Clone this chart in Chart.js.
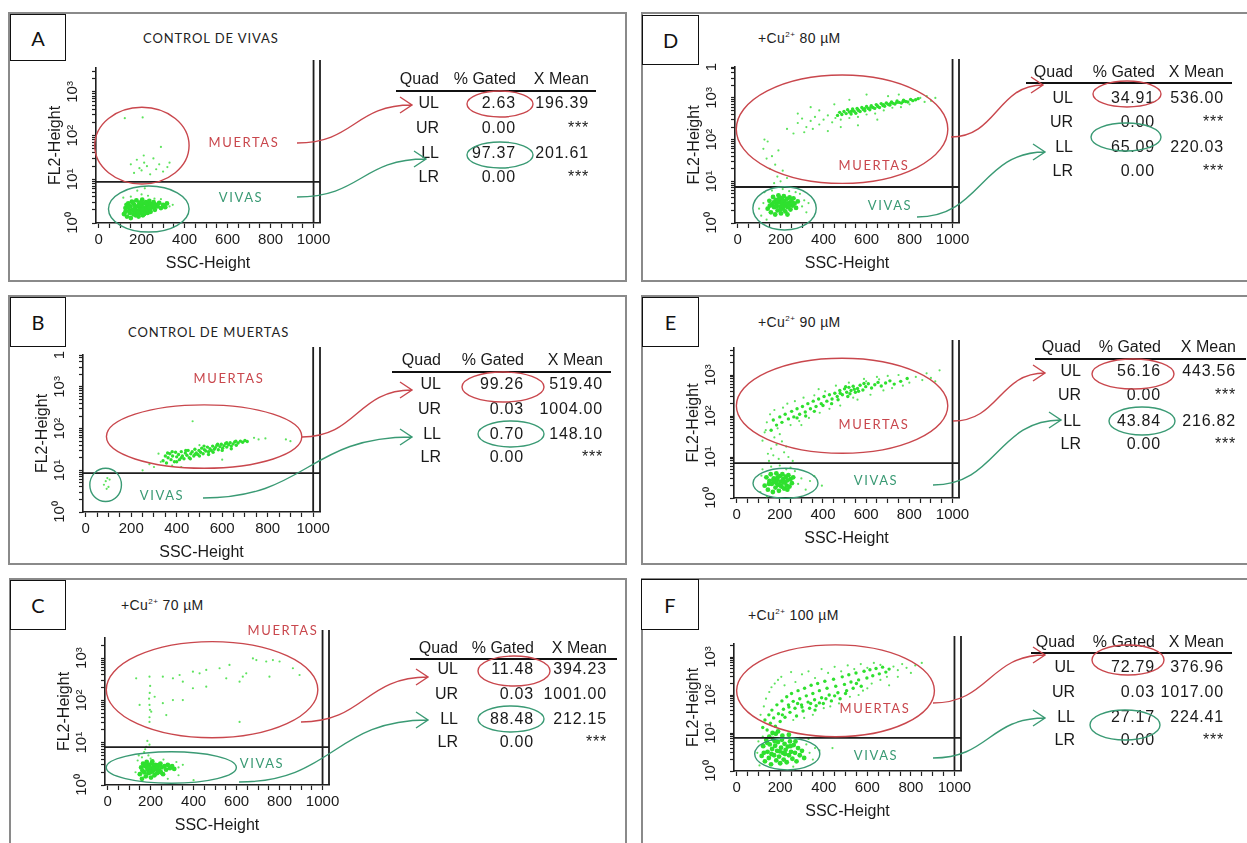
<!DOCTYPE html>
<html>
<head>
<meta charset="utf-8">
<script src="https://cdn.jsdelivr.net/npm/chart.js@4.4.1/dist/chart.umd.min.js"></script>
<style>
body { margin:0; background:#fff; width:1247px; height:843px; overflow:hidden; position:relative; font-family:"Liberation Sans", Arial, sans-serif; }
.panel { position:absolute; border:2px solid #8a8a8a; box-sizing:border-box; }
.letter { position:absolute; border:1.5px solid #111; background:#fff; box-sizing:border-box; font:20px Lato, sans-serif; color:#111; display:flex; align-items:center; justify-content:center; }
.title { position:absolute; white-space:nowrap; color:#222; transform:translateY(-50%); }
.caps { font:13px Lato, sans-serif; letter-spacing:0.9px; }
.cu { font:14px "Liberation Sans", Arial, sans-serif; letter-spacing:0.4px; }
.cu sup { font-size:8px; vertical-align:6px; }
.t { position:absolute; width:200px; text-align:right; white-space:nowrap; font:16px "Liberation Sans", Arial, sans-serif; color:#1a1a1a; height:18px; line-height:18px; }
.v { letter-spacing:0.8px; }
.gl { position:absolute; white-space:nowrap; font:13px Lato, sans-serif; letter-spacing:1.6px; transform:translate(-50%,-50%); }
canvas { position:absolute; }
</style>
</head>
<body>
<script>
/* ---- table values ---- */
var quadNames = ['UL', 'UR', 'LL', 'LR'];
var gatedA = ['2.63', '0.00', '97.37', '0.00'];   var meanA = ['196.39', '***', '201.61', '***'];
var gatedB = ['99.26', '0.03', '0.70', '0.00'];   var meanB = ['519.40', '1004.00', '148.10', '***'];
var gatedC = ['11.48', '0.03', '88.48', '0.00'];  var meanC = ['394.23', '1001.00', '212.15', '***'];
var gatedD = ['34.91', '0.00', '65.09', '0.00'];  var meanD = ['536.00', '***', '220.03', '***'];
var gatedE = ['56.16', '0.00', '43.84', '0.00'];  var meanE = ['443.56', '***', '216.82', '***'];
var gatedF = ['72.79', '0.03', '27.17', '0.00'];  var meanF = ['376.96', '1017.00', '224.41', '***'];

var titles = ['CONTROL DE VIVAS', 'CONTROL DE MUERTAS', '+Cu<sup>2+</sup> 70 µM', '+Cu<sup>2+</sup> 80 µM', '+Cu<sup>2+</sup> 90 µM', '+Cu<sup>2+</sup> 100 µM'];

/* axis ticks */
var xTickValues = [0, 50, 100, 150, 200, 250, 300, 350, 400, 450, 500, 550, 600, 650, 700, 750, 800, 850, 900, 950, 1000];
var xTickLabels = ['0', '200', '400', '600', '800', '1000'];
var yMajorTicks = [1, 10, 100, 1000];
var yMajorLabels = ['10⁰', '10¹', '10²', '10³'];

/* quadrant marker level (FL2) per panel A..F */
var quadLevels = [8.7, 8.6, 7.9, 7.3, 7.1, 7.4];

/* gates [ssc from, ssc to, fl2 from, fl2 to] */
var gateRedA = [-18, 421, 7.8, 447],   gateGreenA = [46, 421, 0.62, 7.0];
var gateRedB = [91, 950, 11.2, 370],   gateGreenB = [18, 157, 1.78, 11.2];
var gateRedC = [-6, 978, 13.1, 2450],  gateGreenC = [-6, 599, 1.1, 6.1];
var gateRedD = [-6, 978, 8.9, 3550],   gateGreenD = [71, 366, 0.68, 7.4];
var gateRedE = [-1, 978, 12.3, 2570],  gateGreenE = [76, 377, 0.98, 5.3];
var gateRedF = [0, 908, 8.0, 2080],    gateGreenF = [83, 382, 1.07, 7.4];

/* events [SSC-Height, FL2-Height]: core = dense live cloud, band = dense dead cloud, sparse = scattered */
var ptsACore = [[118,1.6],[125,2.2],[132,1.4],[138,2.8],[142,1.9],[148,2.4],[150,1.3],[155,3.1],[158,2.0],[162,1.6],[166,2.6],[170,2.2],[172,1.5],[176,3.3],[180,1.9],[183,2.4],[186,1.4],[190,2.9],[193,2.1],[196,1.7],[200,2.5],[203,3.4],[206,1.5],[210,2.2],[213,2.8],[216,1.9],[220,3.0],[224,2.4],[228,1.7],[232,2.6],[236,3.2],[240,2.1],[244,2.7],[250,2.3],[256,3.0],[262,2.0],[268,2.6],[275,2.4],[282,2.9],[290,2.2],[130,2.6],[145,1.7],[160,2.9],[175,1.8],[188,2.6],[198,3.0],[212,1.6],[226,2.0],[242,1.8],[254,2.5],[300,2.6],[310,2.3],[318,2.8],[125,1.8],[140,2.3],[165,2.0],[185,1.7],[205,2.0],[235,2.3],[260,2.4]];
var ptsABand = [];
var ptsASparse = [[115,3.8],[200,4.5],[230,4.2],[260,3.6],[330,2.4],[345,2.6],[180,5.5],[215,6.2],[150,4.0],[290,3.5],[122,250],[205,260],[150,22],[165,14],[178,28],[190,18],[200,16],[212,24],[225,20],[240,13],[255,30],[268,17],[282,22],[300,15],[320,19],[290,55],[330,24],[210,35]];

var ptsBCore = [];
var ptsBBand = [[340,17],[350,22],[355,15],[362,20],[370,25],[375,18],[382,22],[390,16],[395,27],[400,21],[408,24],[412,18],[420,28],[425,22],[432,19],[438,26],[445,23],[450,30],[455,20],[462,25],[468,28],[475,22],[480,32],[486,26],[492,24],[498,30],[505,27],[510,34],[516,25],[522,31],[528,29],[535,36],[540,28],[546,33],[552,30],[558,38],[565,32],[570,35],[577,40],[583,31],[590,37],[596,42],[602,34],[608,39],[615,44],[620,36],[628,41],[635,46],[640,38],[648,43],[655,48],[662,40],[670,45],[680,50],[690,47],[700,52],[710,49],[360,26],[380,28],[400,16],[420,20],[440,30],[460,19],[480,24],[500,22],[520,38],[540,24],[560,27],[580,42],[600,30],[620,46],[640,33],[660,50]];
var ptsBSparse = [[280,14],[300,12],[330,16],[380,13],[420,12],[470,150],[600,18],[740,60],[760,55],[790,58],[880,55],[900,50],[250,10],[500,40],[320,25],[80,4.5],[88,5.5],[95,6.5],[100,4.0],[92,3.6],[105,6.0]];

var ptsCCore = [[150,1.8],[156,2.6],[160,1.4],[165,3.2],[170,2.0],[174,2.8],[178,1.6],[182,3.5],[186,2.3],[190,1.9],[194,3.0],[198,2.5],[202,1.5],[206,3.3],[210,2.1],[214,2.8],[218,1.7],[222,3.0],[226,2.4],[230,1.9],[235,2.9],[240,2.2],[246,3.2],[252,2.6],[258,1.8],[265,2.8],[272,2.3],[280,3.0],[290,2.5],[300,2.8],[162,2.2],[184,2.6],[200,2.0],[215,2.4],[232,2.6],[248,2.0],[176,3.0],[208,3.6],[240,3.0],[310,2.4]];
var ptsCBand = [];
var ptsCSparse = [[140,3.8],[145,5.0],[170,6.0],[180,8.0],[185,11],[175,7.0],[190,5.0],[195,9],[160,4.5],[320,3.5],[330,2.6],[350,3.0],[200,4.2],[260,4.0],[280,1.4],[330,1.7],[400,1.3],[130,2.0],[133,333],[195,363],[257,363],[304,333],[350,277],[397,478],[428,436],[459,525],[521,575],[567,690],[614,277],[645,436],[692,900],[738,830],[753,363],[800,830],[862,575],[893,398],[149,78],[195,78],[219,122],[257,86],[304,102],[350,102],[397,194],[459,211],[195,31],[203,54],[273,45],[614,31],[335,398],[552,333],[629,363],[676,980],[769,900],[195,40],[197,60],[193,110],[196,150],[198,220]];

var ptsDCore = [[140,2.2],[148,3.4],[155,1.8],[160,2.8],[165,4.2],[170,2.4],[175,1.6],[178,3.6],[182,2.9],[186,2.0],[190,4.6],[194,3.2],[198,2.5],[202,1.7],[205,3.9],[208,2.9],[212,2.2],[215,4.4],[218,3.3],[222,1.9],[226,2.7],[230,3.8],[234,2.4],[238,3.0],[242,4.1],[246,2.1],[250,3.4],[255,2.6],[260,3.9],[265,2.9],[272,2.3],[280,3.3],[150,2.6],[168,3.1],[188,3.6],[200,2.1],[210,3.5],[225,2.9],[240,2.6],[258,3.0],[195,4.0],[180,2.5],[232,1.6],[215,2.5]];
var ptsDBand = [[465,380],[475,450],[485,400],[495,470],[505,420],[512,520],[520,460],[528,410],[535,540],[542,480],[550,430],[556,560],[563,500],[570,470],[578,590],[585,530],[592,490],[600,620],[607,560],[615,520],[622,650],[630,590],[638,560],[645,690],[652,620],[660,590],[668,730],[676,660],[684,630],[692,760],[700,700],[708,670],[716,800],[724,740],[732,710],[742,840],[752,780],[762,750],[772,880],[782,820],[792,800],[805,920],[815,860],[828,900],[840,960],[530,480],[560,520],[590,550],[620,600],[650,650],[680,690],[710,730],[740,780],[770,820]];
var ptsDSparse = [[110,1.5],[120,3.0],[125,5.5],[300,2.5],[310,3.5],[290,5.0],[320,1.8],[270,5.5],[135,1.2],[160,6.0],[240,5.8],[330,3.0],[100,2.2],[210,6.5],[170,9],[200,10],[230,12],[185,13],[150,20],[135,35],[120,60],[140,90],[160,40],[175,25],[125,100],[190,55],[210,18],
  [280,250],[300,320],[320,200],[340,280],[360,350],[380,230],[400,300],[420,380],[440,260],[455,330],[350,180],[310,150],[260,140],[420,160],[480,300],[520,330],[560,350],[600,400],[640,420],[680,500],[720,580],[760,600],[800,700],[850,1000],[870,800],[880,1100],[900,850],[920,1000],[600,1200],[520,900],[450,700],[380,500],[700,1100],[340,600],[480,200],[560,220],[650,300],[750,1200],[280,420],[230,180]];

var ptsECore = [[130,2.0],[138,3.2],[145,1.6],[152,2.6],[158,3.8],[163,2.2],[168,1.4],[172,3.0],[176,2.5],[180,1.8],[184,4.0],[188,2.8],[192,2.1],[196,1.5],[200,3.4],[204,2.5],[208,1.9],[212,3.8],[216,2.9],[220,1.7],[224,2.4],[228,3.3],[232,2.0],[236,2.7],[240,3.6],[245,1.9],[250,2.9],[256,2.3],[262,3.2],[150,2.2],[170,2.7],[190,3.2],[205,2.0],[218,2.4],[235,1.6],[185,2.3]];
var ptsEBand = [[160,45],[170,80],[185,60],[200,95],[210,70],[225,110],[240,85],[255,130],[265,95],[280,150],[292,110],[305,170],[318,125],[330,200],[342,150],[355,230],[368,170],[380,260],[392,200],[405,300],[418,230],[430,330],[442,260],[455,360],[466,300],[478,420],[490,330],[500,460],[510,380],[520,500],[530,420],[540,530],[550,380],[560,470],[572,560],[585,430],[598,520],[610,610],[625,480],[640,580],[655,660],[670,540],[690,640],[710,720],[730,600],[760,700],[790,820],[480,360],[505,520],[525,350],[545,450],[565,400],[590,620],[515,300],[470,250],[440,200],[400,180],[360,130],[320,100],[280,90]];
var ptsESparse = [[110,1.4],[115,3.5],[120,5.0],[270,4.5],[285,2.2],[300,3.0],[320,1.6],[340,2.6],[360,3.4],[250,5.5],[160,5.8],[200,6.2],[230,5.0],[140,1.1],[395,2.0],[150,8],[170,11],[195,9],[220,13],[240,10],[160,16],[185,20],[210,24],[175,30],[200,36],[230,18],[145,12],[260,8],[120,25],[135,45],
  [130,40],[140,70],[155,110],[175,140],[190,50],[215,160],[235,200],[250,60],[270,230],[290,75],[310,280],[335,90],[360,320],[385,120],[410,400],[430,150],[460,550],[480,180],[520,650],[560,250],[590,800],[620,330],[650,900],[680,420],[700,950],[720,480],[750,1000],[770,550],[800,650],[830,900],[860,750],[880,1100],[900,850],[920,700],[940,1300],[600,700],[540,280],[380,450],[300,60],[660,780]];

var ptsFCore = [[115,2.5],[122,4.5],[130,1.8],[136,6.5],[142,3.2],[148,2.2],[152,5.0],[158,1.5],[163,3.8],[168,7.0],[172,2.6],[177,4.6],[182,1.9],[186,3.4],[190,5.8],[195,2.4],[200,1.6],[204,4.1],[208,6.6],[212,3.0],[216,2.0],[220,5.2],[225,3.6],[230,1.7],[235,4.4],[240,2.6],[245,6.0],[250,3.2],[256,2.1],[262,4.8],[268,3.0],[275,1.8],[282,4.0],[290,2.6],[300,3.4],[310,2.2],[125,3.0],[140,5.5],[160,2.8],[175,6.0],[198,3.3],[222,2.8],[248,4.5],[270,6.0],[150,8.0],[180,9.5],[210,8.5],[240,9.0],[190,11],[165,10]];
var ptsFBand = [[120,14],[130,22],[140,12],[148,30],[155,18],[162,40],[170,25],[178,15],[185,55],[192,32],[200,20],[208,70],[215,42],[222,26],[230,90],[238,55],[245,35],[252,110],[260,68],[268,45],[275,28],[282,130],[290,80],[298,55],[305,38],[312,150],[320,95],[328,65],[335,45],[342,180],[350,110],[358,75],[365,52],[372,200],[380,130],[390,85],[398,60],[405,230],[415,150],[425,100],[435,70],[445,260],[455,170],[465,115],[475,80],[485,300],[495,190],[505,130],[515,340],[525,220],[535,150],[548,380],[560,250],[572,170],[585,420],[598,280],[612,460],[625,320],[640,500],[655,360],[670,540],[685,400],[700,480],[340,60],[360,40],[300,48],[280,60],[380,62],[410,80],[240,48],[210,30],[450,95],[500,110],[550,200]];
var ptsFSparse = [[95,3],[100,6],[105,1.4],[320,5],[335,3],[350,2],[360,4],[330,7],[290,7.5],[120,8],[260,1.3],[380,3.5],[440,4],[230,7.5],
  [110,30],[125,50],[135,80],[150,120],[160,160],[175,200],[190,250],[205,300],[220,180],[250,400],[270,220],[300,350],[330,420],[360,280],[390,480],[420,380],[450,550],[480,420],[510,600],[540,480],[570,650],[600,520],[630,700],[660,620],[690,300],[720,560],[740,450],[760,650],[780,520],[800,380],[820,600],[850,700],[580,130],[620,200],[660,250],[700,180],[740,300],[520,90],[470,60],[430,50],[560,100],[600,150],[400,45],[350,30],[310,25],[260,22]];

/* ---- page layout (pixels) ---- */
var layoutA = {box:[8,12,627,282],  letter:[10,14,66,61],  title:[143,38], x0:99,  k:0.215, yb:223, dec:43.7, top:68,  topLabel:false};
var layoutB = {box:[8,295,627,565], letter:[10,297,66,347], title:[128,332], x0:86,  k:0.227, yb:512, dec:41.7, top:355, topLabel:true};
var layoutC = {box:[9,578,627,860], letter:[10,580,66,630], title:[121,605], x0:108, k:0.215, yb:785, dec:42.3, top:638, topLabel:false};
var layoutD = {box:[641,12,1260,282], letter:[642,15,699,65], title:[758,38], x0:738, k:0.215, yb:223, dec:41.7, top:67, topLabel:true};
var layoutE = {box:[641,295,1260,565], letter:[642,297,699,347], title:[758,322], x0:737, k:0.216, yb:498, dec:41, top:348, topLabel:false};
var layoutF = {box:[641,578,1260,860], letter:[641,579,699,630], title:[748,615], x0:737, k:0.217, yb:771, dec:38, top:644, topLabel:false};

var tableA = {hy:79,  uy:91,  ux:[396,596],  ry:[103,128,153,177], rc:[439,516,589]};
var tableB = {hy:360, uy:372, ux:[392,611],  ry:[384,409,434,457], rc:[441,524,603]};
var tableC = {hy:648, uy:659, ux:[410,617],  ry:[669,694,719,742], rc:[458,534,607]};
var tableD = {hy:72,  uy:83,  ux:[1026,1232], ry:[98,122,147,171], rc:[1073,1155,1224]};
var tableE = {hy:347, uy:359, ux:[1035,1246], ry:[371,395,421,444], rc:[1081,1161,1236]};
var tableF = {hy:642, uy:653, ux:[1031,1232], ry:[667,692,717,740], rc:[1075,1155,1224]};

/* label centres, arrows [x1,y1,x2,y2], table rings [cx,cy,rx,ry] */
var marksA = {mu:[244,142], vi:[241,197], ar:[297,143,412,105], ag:[297,197,426,159], rr:[500,104,33,13], rg:[500,155,33,13]};
var marksB = {mu:[229,378], vi:[162,495], ar:[302,437,412,390], ag:[203,498,412,437], rr:[503,387,41,15], rg:[511,434,33,13]};
var marksC = {mu:[283,630], vi:[262,763], ar:[301,722,428,677], ag:[239,782,428,720], rr:[514,671,36,15], rg:[511,719,33,13]};
var marksD = {mu:[874,165], vi:[890,205], ar:[951,137,1043,85], ag:[917,217,1045,152], rr:[1127,94,34,13], rg:[1126,137,35,14]};
var marksE = {mu:[874,424], vi:[876,480], ar:[953,421,1045,373], ag:[933,485,1061,420], rr:[1133,374,41,15], rg:[1142,421,33,14]};
var marksF = {mu:[875,708], vi:[876,755], ar:[933,703,1045,655], ag:[933,758,1045,718], rr:[1128,660,36,15], rg:[1125,725,35,15]};

var RED = '#c9474d', GREEN = '#3a9a74', DOT = '#2fe02f', DOT2 = '#5ee35e';

Chart.defaults.font.family = '"Liberation Sans", Arial, sans-serif';
Chart.defaults.color = '#1a1a1a';

/* draws quadrant markers and gate ellipses on top of the dots */
const gatePlugin = {
  id: 'gates',
  afterDraw(chart, args, o) {
    const ctx = chart.ctx, a = chart.chartArea, x = chart.scales.x, y = chart.scales.y;
    ctx.save();
    ctx.strokeStyle = '#1e1e1e';
    ctx.lineWidth = 1.8;
    const qy = y.getPixelForValue(o.quadY);
    const qx = x.getPixelForValue(1000);
    ctx.beginPath();
    ctx.moveTo(a.left, qy); ctx.lineTo(a.right, qy);
    ctx.moveTo(qx, a.top - 8); ctx.lineTo(qx, a.bottom);
    ctx.moveTo(a.right, a.top - 8); ctx.lineTo(a.right, a.bottom);
    ctx.stroke();
    [[o.red, RED], [o.green, GREEN]].forEach(function (g) {
      const x1 = x.getPixelForValue(g[0][0]), x2 = x.getPixelForValue(g[0][1]);
      const y1 = y.getPixelForValue(g[0][2]), y2 = y.getPixelForValue(g[0][3]);
      ctx.beginPath();
      ctx.ellipse((x1 + x2) / 2, (y1 + y2) / 2, Math.abs(x2 - x1) / 2, Math.abs(y2 - y1) / 2, 0, 0, Math.PI * 2);
      ctx.strokeStyle = g[1];
      ctx.lineWidth = 1.4;
      ctx.stroke();
    });
    ctx.restore();
  }
};

function toXY(arr) { return arr.map(function (p) { return {x: p[0], y: p[1]}; }); }

function el(tag, cls, css, html) {
  const d = document.createElement(tag);
  if (cls) d.className = cls;
  if (css) d.style.cssText = css;
  if (html !== undefined) d.innerHTML = html;
  document.body.appendChild(d);
  return d;
}

function drawPanel(L, title, caps, letter) {
  const b = L.box, l = L.letter;
  el('div', 'panel', 'left:' + b[0] + 'px;top:' + b[1] + 'px;width:' + (b[2] - b[0]) + 'px;height:' + (b[3] - b[1]) + 'px');
  el('div', 'letter', 'left:' + l[0] + 'px;top:' + l[1] + 'px;width:' + (l[2] - l[0]) + 'px;height:' + (l[3] - l[1]) + 'px', letter);
  el('div', 'title ' + (caps ? 'caps' : 'cu'), 'left:' + L.title[0] + 'px;top:' + L.title[1] + 'px', title);
}

function drawChart(L, core, band, sparse, red, green, quadY) {
  const PL = 70, PT = 25, PR = 22, PB = 55;
  const xMin = -12, xMax = 1030;
  const axisX = Math.round(L.x0 + xMin * L.k), rightX = Math.round(L.x0 + xMax * L.k);
  const top = Math.round(L.top), yb = Math.round(L.yb);
  const yMax = Math.pow(10, (L.yb - L.top) / L.dec);
  const w = rightX - axisX + PL + PR, h = yb - top + PT + PB;
  const cv = el('canvas', null, 'left:' + (axisX - PL) + 'px;top:' + (top - PT) + 'px;width:' + w + 'px;height:' + h + 'px');
  cv.width = w; cv.height = h;
  new Chart(cv, {
    type: 'scatter',
    data: {datasets: [
      {data: toXY(sparse), pointRadius: 1.1, backgroundColor: DOT2, borderWidth: 0},
      {data: toXY(band), pointRadius: 1.7, backgroundColor: DOT, borderWidth: 0},
      {data: toXY(core), pointRadius: 2.4, backgroundColor: DOT, borderWidth: 0}
    ]},
    options: {
      responsive: false, animation: false, events: [],
      layout: {padding: {left: 0, top: PT, right: PR, bottom: 0}},
      plugins: {legend: {display: false}, tooltip: {enabled: false},
        gates: {red: red, green: green, quadY: quadY}},
      scales: {
        x: {
          type: 'linear', min: xMin, max: xMax,
          afterFit: function (s) { s.height = PB; },
          afterBuildTicks: function (s) { s.ticks = xTickValues.map(function (v) { return {value: v}; }); },
          ticks: {autoSkip: false, maxRotation: 0, padding: 3, font: {size: 15},
            callback: function (v) { return v % 200 === 0 ? xTickLabels[v / 200] : ''; }},
          grid: {display: true, drawOnChartArea: false, tickLength: 5, tickColor: '#222', tickWidth: 1.2},
          border: {display: true, color: '#1e1e1e', width: 1.6},
          title: {display: true, text: 'SSC-Height', font: {size: 16}, padding: {top: 0, bottom: 5}}
        },
        y: {
          type: 'logarithmic', min: 1, max: yMax,
          afterFit: function (s) { s.width = PL; },
          afterBuildTicks: function (s) {
            const t = [];
            for (let e = 0; e < 4; e++) for (let m = 1; m < 10; m++) { const v = m * Math.pow(10, e); if (v <= yMax) t.push({value: v}); }
            if (L.topLabel) t.push({value: yMax});
            s.ticks = t;
          },
          ticks: {autoSkip: false, minRotation: 90, maxRotation: 90, crossAlign: 'center', padding: 8, font: {size: 15},
            callback: function (v) {
              const i = yMajorTicks.indexOf(v);
              if (i >= 0) return yMajorLabels[i];
              if (L.topLabel && v === yMax) return '1';
              return '';
            }},
          grid: {display: true, drawOnChartArea: false, tickLength: 4, tickColor: '#222', tickWidth: 1.2},
          border: {display: true, color: '#1e1e1e', width: 1.6},
          title: {display: true, text: 'FL2-Height', font: {size: 16}, padding: {top: 20, bottom: 0}}
        }
      }
    },
    plugins: [gatePlugin]
  });
}

function cell(str, right, cy, cls) {
  el('div', 't' + (cls ? ' ' + cls : ''), 'left:' + (right - 200) + 'px;top:' + (cy - 9) + 'px', str);
}

function drawTable(T, gated, mean) {
  cell('Quad', T.rc[0], T.hy); cell('% Gated', T.rc[1], T.hy); cell('X Mean', T.rc[2], T.hy);
  el('div', null, 'position:absolute;background:#111;left:' + T.ux[0] + 'px;top:' + (T.uy - 1) + 'px;width:' + (T.ux[1] - T.ux[0]) + 'px;height:2px');
  for (let i = 0; i < 4; i++) {
    cell(quadNames[i], T.rc[0], T.ry[i]);
    cell(gated[i], T.rc[1], T.ry[i], 'v');
    cell(mean[i], T.rc[2], T.ry[i], 'v');
  }
}

var svgParts = [];
function drawMarks(M) {
  el('div', 'gl', 'left:' + M.mu[0] + 'px;top:' + M.mu[1] + 'px;color:' + RED, 'MUERTAS');
  el('div', 'gl', 'left:' + M.vi[0] + 'px;top:' + M.vi[1] + 'px;color:' + GREEN, 'VIVAS');
  [[M.ar, RED], [M.ag, GREEN]].forEach(function (a) {
    const p = a[0], dx = p[2] - p[0];
    svgParts.push('<path d="M' + p[0] + ' ' + p[1] + ' C' + (p[0] + dx * 0.5) + ' ' + p[1] + ' ' + (p[0] + dx * 0.5) + ' ' + p[3] + ' ' + p[2] + ' ' + p[3] +
      ' M' + (p[2] - 12) + ' ' + (p[3] - 8) + ' L' + p[2] + ' ' + p[3] + ' L' + (p[2] - 12) + ' ' + (p[3] + 8) + '" fill="none" stroke="' + a[1] + '" stroke-width="1.4"/>');
  });
  [[M.rr, RED], [M.rg, GREEN]].forEach(function (r) {
    svgParts.push('<ellipse cx="' + r[0][0] + '" cy="' + r[0][1] + '" rx="' + r[0][2] + '" ry="' + r[0][3] + '" fill="none" stroke="' + r[1] + '" stroke-width="1.4"/>');
  });
}

drawPanel(layoutA, titles[0], true, 'A');
drawPanel(layoutB, titles[1], true, 'B');
drawPanel(layoutC, titles[2], false, 'C');
drawPanel(layoutD, titles[3], false, 'D');
drawPanel(layoutE, titles[4], false, 'E');
drawPanel(layoutF, titles[5], false, 'F');

drawChart(layoutA, ptsACore, ptsABand, ptsASparse, gateRedA, gateGreenA, quadLevels[0]);
drawChart(layoutB, ptsBCore, ptsBBand, ptsBSparse, gateRedB, gateGreenB, quadLevels[1]);
drawChart(layoutC, ptsCCore, ptsCBand, ptsCSparse, gateRedC, gateGreenC, quadLevels[2]);
drawChart(layoutD, ptsDCore, ptsDBand, ptsDSparse, gateRedD, gateGreenD, quadLevels[3]);
drawChart(layoutE, ptsECore, ptsEBand, ptsESparse, gateRedE, gateGreenE, quadLevels[4]);
drawChart(layoutF, ptsFCore, ptsFBand, ptsFSparse, gateRedF, gateGreenF, quadLevels[5]);

drawTable(tableA, gatedA, meanA);
drawTable(tableB, gatedB, meanB);
drawTable(tableC, gatedC, meanC);
drawTable(tableD, gatedD, meanD);
drawTable(tableE, gatedE, meanE);
drawTable(tableF, gatedF, meanF);

[marksA, marksB, marksC, marksD, marksE, marksF].forEach(drawMarks);
el('div', null, 'position:absolute;left:0;top:0;width:1247px;height:843px;pointer-events:none',
  '<svg width="1247" height="843" xmlns="http://www.w3.org/2000/svg">' + svgParts.join('') + '</svg>');
</script>
</body>
</html>
